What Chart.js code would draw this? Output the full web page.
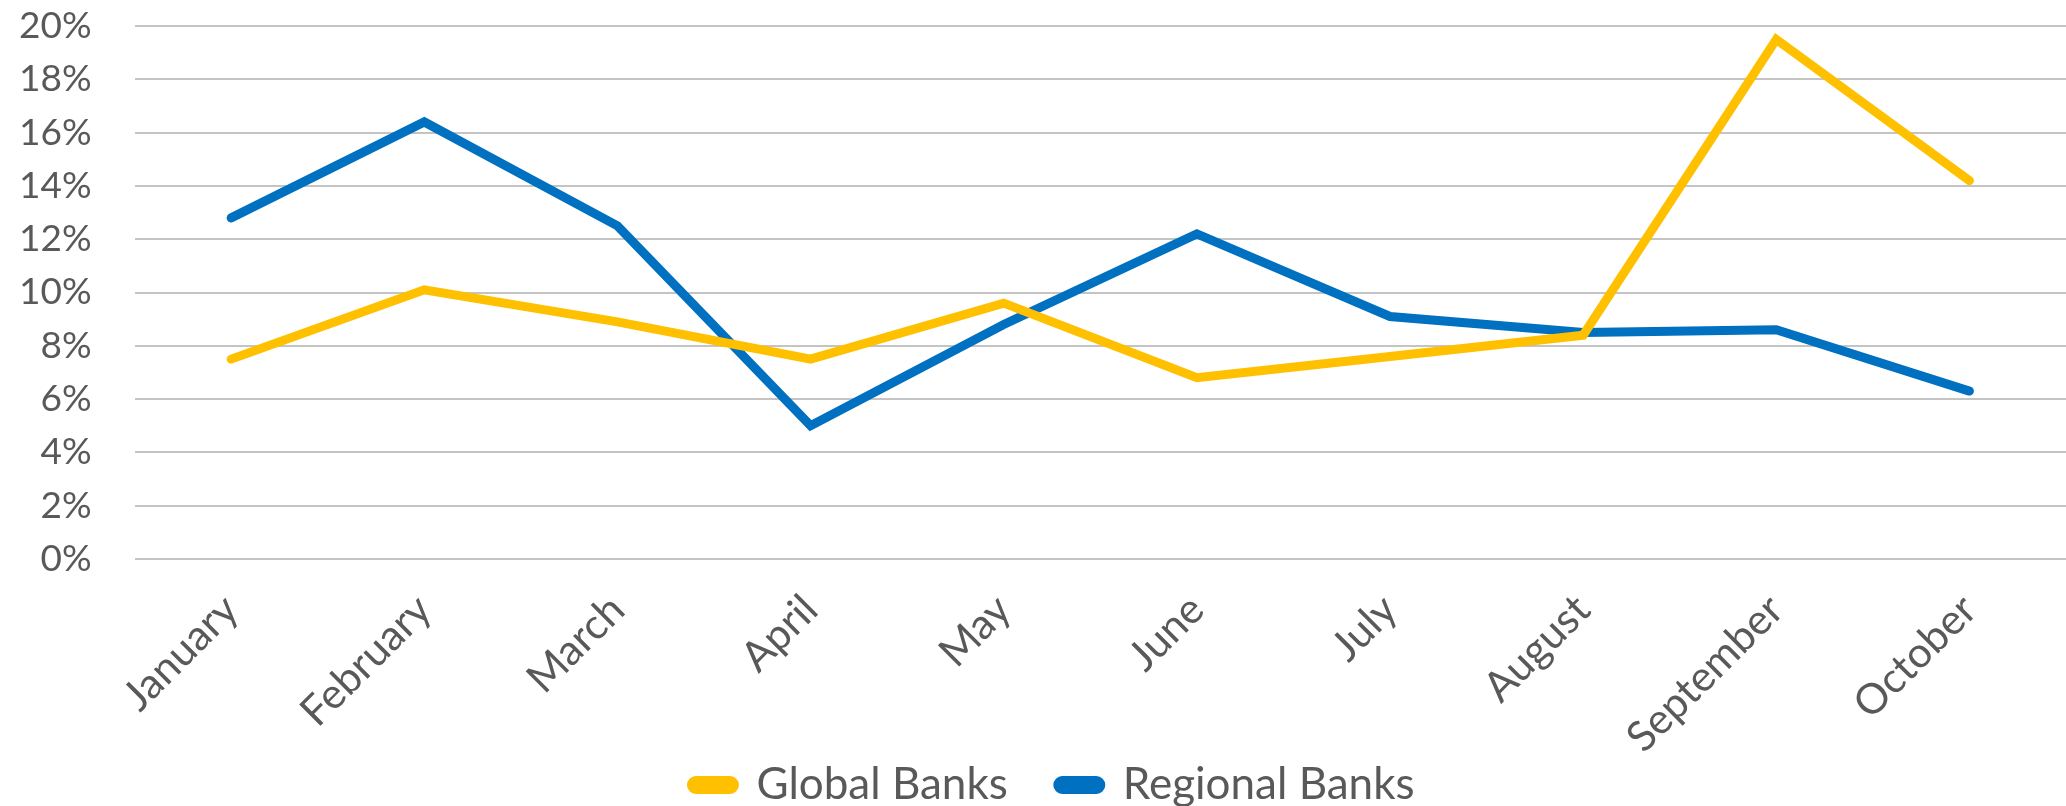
<!DOCTYPE html>
<html>
<head>
<meta charset="utf-8">
<script src="https://cdn.jsdelivr.net/npm/chart.js@4.4.1/dist/chart.umd.min.js"></script>
<style>
  html, body { margin: 0; padding: 0; background: #fff; }
  #wrap { width: 2066px; height: 806px; }
</style>
</head>
<body>
<div id="wrap"><canvas id="bankChart"></canvas></div>
<script>
// months on the x axis
var months = ['January', 'February', 'March', 'April', 'May', 'June', 'July', 'August', 'September', 'October']
// values in percent
var globalBanks = [7.5, 10.1, 8.9, 7.5, 9.6, 6.8, 7.6, 8.4, 19.5, 14.2]
var regionalBanks = [12.8, 16.4, 12.5, 5.0, 8.8, 12.2, 9.1, 8.5, 8.6, 6.3]
var yMin = 0
var yMax = 20
var yStep = 2

var fontName = 'Lato, "Open Sans", sans-serif'
var textColor = '#595959'

// the legend is tall (wide gap between items), so let the month labels
// run down over it instead of being clipped to the x axis box
const noLabelClip = {
  id: 'noLabelClip',
  afterLayout(chart) {
    // legend sits a bit right of centre in the picture
    chart.legend.left += 32
    chart.legend.right += 32
  },
  beforeDraw(chart) {
    chart.scales.x._computeLabelArea = function () {
      return undefined
    }
  },
}

var myChart = null
function createChart() {
  const ctx = document.getElementById('bankChart').getContext('2d')
  myChart = new Chart(ctx, {
    type: 'line',
    data: {
      labels: months,
      datasets: [
        {
          label: 'Global Banks',
          data: globalBanks,
          borderColor: '#FFC000',
          backgroundColor: '#FFC000',
          borderWidth: 9,
          borderCapStyle: 'round',
          borderJoinStyle: 'miter',
          pointRadius: 0,
          tension: 0,
          fill: false,
        },
        {
          label: 'Regional Banks',
          data: regionalBanks,
          borderColor: '#0070C0',
          backgroundColor: '#0070C0',
          borderWidth: 9,
          borderCapStyle: 'round',
          borderJoinStyle: 'miter',
          pointRadius: 0,
          tension: 0,
          fill: false,
        },
      ],
    },
    plugins: [noLabelClip],
    options: {
      responsive: true,
      maintainAspectRatio: false,
      animation: false,
      events: [], // no mouse stuff
      layout: {
        padding: { left: -24, right: 0, top: 0, bottom: -11 },
      },
      plugins: {
        tooltip: { enabled: false },
        legend: {
          position: 'bottom',
          labels: {
            color: textColor,
            font: { family: fontName, size: 44, lineHeight: 1 },
            boxWidth: 43,
            boxHeight: 9,
            useBorderRadius: true,
            borderRadius: 4.5,
            padding: 50,
          },
        },
      },
      scales: {
        x: {
          offset: true,
          grid: { display: false },
          border: { display: false },
          ticks: {
            color: textColor,
            font: { family: fontName, size: 42 },
            minRotation: 45,
            maxRotation: 45,
            padding: 18,
          },
          afterFit: function (scale) {
            // labels may hang over the left side, like the picture
            scale.paddingLeft = 0
            scale.paddingRight = 0
            scale.height = 154
          },
        },
        y: {
          min: yMin,
          max: yMax,
          border: { display: false },
          grid: {
            color: '#c4c4c4',
            lineWidth: 2,
            drawTicks: false,
          },
          ticks: {
            stepSize: yStep,
            color: textColor,
            font: { family: fontName, size: 37 },
            padding: 43,
            callback: function (v) {
              return v + '%'
            },
          },
          afterFit: function (scale) {
            scale.paddingTop = 26
            scale.paddingBottom = 0
          },
        },
      },
    },
  })
}
createChart()
</script>
</body>
</html>
